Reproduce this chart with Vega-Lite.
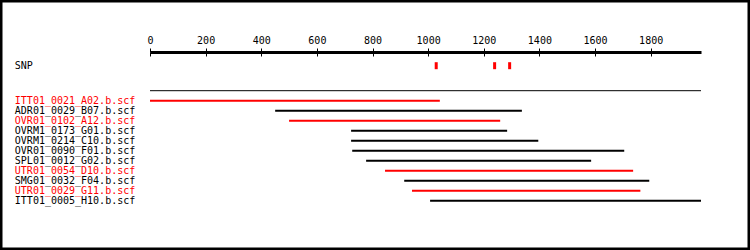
{
  "$schema": "https://vega.github.io/schema/vega-lite/v6.json",
  "width": 750,
  "height": 250,
  "autosize": {"type": "fit", "contains": "padding"},
  "padding": 0,
  "background": "white",
  "config": {
    "view": {"stroke": "black", "strokeWidth": 5},
    "font": "DejaVu Sans Mono",
    "text": {"font": "DejaVu Sans Mono"}
  },
  "datasets": {
    "reads": [
      {"name": "ITT01_0021_A02.b.scf", "start": 0, "end": 1042, "row": 1, "status": "highlighted"},
      {"name": "ADR01_0029_B07.b.scf", "start": 450, "end": 1337, "row": 2, "status": "normal"},
      {"name": "OVR01_0102_A12.b.scf", "start": 500, "end": 1259, "row": 3, "status": "highlighted"},
      {"name": "OVRM1_0173_G01.b.scf", "start": 723, "end": 1284, "row": 4, "status": "normal"},
      {"name": "OVRM1_0214_C10.b.scf", "start": 723, "end": 1396, "row": 5, "status": "normal"},
      {"name": "OVR01_0090_F01.b.scf", "start": 727, "end": 1705, "row": 6, "status": "normal"},
      {"name": "SPL01_0012_G02.b.scf", "start": 777, "end": 1586, "row": 7, "status": "normal"},
      {"name": "UTR01_0054_D10.b.scf", "start": 845, "end": 1737, "row": 8, "status": "highlighted"},
      {"name": "SMG01_0032_F04.b.scf", "start": 914, "end": 1795, "row": 9, "status": "normal"},
      {"name": "UTR01_0029_G11.b.scf", "start": 942, "end": 1763, "row": 10, "status": "highlighted"},
      {"name": "ITT01_0005_H10.b.scf", "start": 1007, "end": 1981, "row": 11, "status": "normal"}
    ],
    "snps": [{"pos": 1029}, {"pos": 1239}, {"pos": 1293}],
    "reference": [{"name": "reference", "start": 0, "end": 1981, "row": 0}],
    "tracks": [{"name": "SNP", "row": -2.5}]
  },
  "layer": [
    {
      "data": {"name": "reference"},
      "mark": {"type": "rule", "color": "black", "strokeWidth": 1},
      "encoding": {
        "x": {
          "field": "start",
          "type": "quantitative",
          "scale": {"domain": [0, 1981], "range": [150, 701], "nice": false, "zero": false},
          "axis": {
            "orient": "top",
            "offset": -52,
            "values": [0, 200, 400, 600, 800, 1000, 1200, 1400, 1600, 1800],
            "format": "d",
            "title": null,
            "grid": false,
            "domain": true,
            "domainColor": "black",
            "domainWidth": 3,
            "ticks": true,
            "tickSize": 4,
            "tickWidth": 1,
            "tickColor": "black",
            "labelPadding": 3,
            "labelFont": "DejaVu Sans Mono",
            "labelFontSize": 10,
            "labelColor": "black",
            "labelFlush": false,
            "labelOverlap": false
          }
        },
        "x2": {"field": "end"},
        "y": {
          "field": "row",
          "type": "quantitative",
          "scale": {"domain": [1, 11], "range": [100.7, 200.7], "nice": false, "zero": false},
          "axis": null
        }
      }
    },
    {
      "data": {"name": "reads"},
      "mark": {"type": "rule", "strokeWidth": 2},
      "encoding": {
        "x": {"field": "start", "type": "quantitative", "axis": null},
        "x2": {"field": "end"},
        "y": {"field": "row", "type": "quantitative", "axis": null},
        "color": {
          "field": "status",
          "type": "nominal",
          "scale": {"domain": ["highlighted", "normal"], "range": ["#ff0000", "black"]},
          "legend": null
        }
      }
    },
    {
      "data": {"name": "reads"},
      "mark": {"type": "text", "align": "left", "baseline": "middle", "fontSize": 10, "font": "DejaVu Sans Mono"},
      "encoding": {
        "x": {"datum": -486, "type": "quantitative", "axis": null},
        "y": {"field": "row", "type": "quantitative", "axis": null},
        "text": {"field": "name"},
        "color": {"field": "status", "type": "nominal", "legend": null}
      }
    },
    {
      "data": {"name": "tracks"},
      "mark": {"type": "text", "align": "left", "baseline": "middle", "fontSize": 10, "font": "DejaVu Sans Mono", "color": "black"},
      "encoding": {
        "x": {"datum": -486, "type": "quantitative", "axis": null},
        "y": {"field": "row", "type": "quantitative", "axis": null},
        "text": {"field": "name"}
      }
    },
    {
      "data": {"name": "snps"},
      "mark": {"type": "tick", "orient": "vertical", "color": "#ff0000", "size": 7, "thickness": 3, "opacity": 1},
      "encoding": {
        "x": {
          "field": "pos",
          "type": "quantitative",
          "axis": {
            "orient": "top",
            "offset": -52,
            "values": [0, 200, 400, 600, 800, 1000, 1200, 1400, 1600, 1800],
            "title": null,
            "grid": false,
            "domain": false,
            "labels": false,
            "ticks": true,
            "tickSize": -4,
            "tickWidth": 1,
            "tickColor": "black"
          }
        },
        "y": {"datum": -2.5, "type": "quantitative", "axis": null}
      }
    }
  ],
  "resolve": {"axis": {"x": "independent"}}
}
